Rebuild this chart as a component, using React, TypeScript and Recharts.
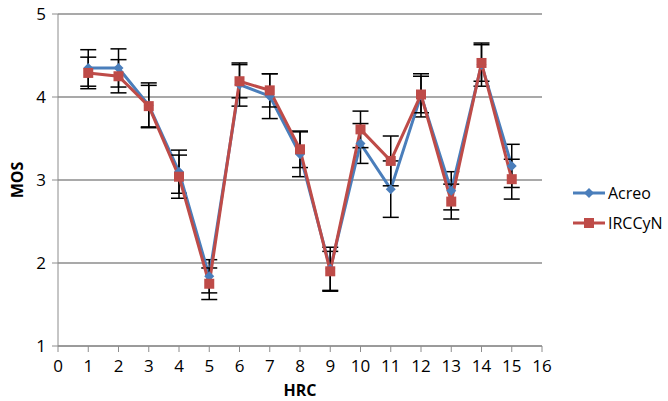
import { LineChart, Line, XAxis, YAxis, CartesianGrid, ErrorBar } from 'recharts'

const hrc = [1, 2, 3, 4, 5, 6, 7, 8, 9, 10, 11, 12, 13, 14, 15]
const acreo = [4.35, 4.35, 3.9, 3.1, 1.84, 4.15, 4.01, 3.31, 1.93, 3.44, 2.89, 4.02, 2.87, 4.39, 3.17]
const irccyn = [4.29, 4.25, 3.89, 3.04, 1.75, 4.19, 4.08, 3.37, 1.9, 3.61, 3.23, 4.03, 2.74, 4.41, 3.01]
const acreoErr = [0.22, 0.23, 0.27, 0.26, 0.2, 0.26, 0.27, 0.27, 0.26, 0.24, 0.34, 0.26, 0.23, 0.26, 0.26]
const irccynErr = [0.19, 0.2, 0.25, 0.26, 0.19, 0.2, 0.2, 0.22, 0.24, 0.22, 0.3, 0.22, 0.21, 0.22, 0.24]
const xTicks = [0, 1, 2, 3, 4, 5, 6, 7, 8, 9, 10, 11, 12, 13, 14, 15, 16]
const yTicks = [1, 2, 3, 4, 5]

const BLUE = '#4a7ebb'
const RED = '#be4b48'
const FONT = '"Open Sans", sans-serif'

const data = hrc.map((x, i) => ({
  hrc: x,
  acreo: acreo[i],
  irccyn: irccyn[i],
  acreoErr: acreoErr[i],
  irccynErr: irccynErr[i]
}))

const Diamond = ({ cx, cy }: any) => (
  <path d={`M${cx},${cy - 5} L${cx + 5},${cy} L${cx},${cy + 5} L${cx - 5},${cy} Z`} fill={BLUE} />
)

const Square = ({ cx, cy }: any) => (
  <rect x={cx - 5} y={cy - 5} width={10} height={10} fill={RED} />
)

// legend sits to the right of the plot, outside the recharts layout
const LegendBox = () => (
  <div style={{ position: 'absolute', left: 573, top: 178, fontFamily: FONT, fontSize: 16, color: '#000' }}>
    {[
      { name: 'Acreo', color: BLUE, square: false },
      { name: 'IRCCyN', color: RED, square: true }
    ].map(s => (
      <div key={s.name} style={{ display: 'flex', alignItems: 'center', height: 30 }}>
        <svg width={32} height={12} style={{ marginRight: 3 }}>
          <line x1={0} y1={6} x2={32} y2={6} stroke={s.color} strokeWidth={3} />
          {s.square
            ? <rect x={11} y={1} width={10} height={10} fill={s.color} />
            : <path d="M16,1 L21,6 L16,11 L11,6 Z" fill={s.color} />}
        </svg>
        <span>{s.name}</span>
      </div>
    ))}
  </div>
)

export default function App() {
  return (
    <div style={{ position: 'absolute', left: 0, top: 0, width: 668, height: 401, background: '#fff' }}>
      <LineChart width={668} height={401} data={data} margin={{ top: 14, right: 126, bottom: 0, left: 0 }}>
        <CartesianGrid vertical={false} stroke="#8c8c8c" strokeWidth={1.5} />
        <XAxis
          type="number"
          dataKey="hrc"
          domain={[0, 16]}
          ticks={xTicks}
          interval={0}
          height={55}
          stroke="#8c8c8c"
          tick={{ fill: '#000', fontSize: 17, fontFamily: FONT }}
          tickSize={6}
          tickMargin={8}
          label={{ value: 'HRC', position: 'insideBottom', offset: 5, style: { fontFamily: FONT, fontSize: 16, fontWeight: 'bold', fill: '#000' } }}
        />
        <YAxis
          type="number"
          domain={[1, 5]}
          ticks={yTicks}
          width={58}
          stroke="#8c8c8c"
          tick={{ fill: '#000', fontSize: 17, fontFamily: FONT }}
          tickSize={6}
          tickMargin={6}
          label={{ value: 'MOS', angle: -90, position: 'insideLeft', offset: 17, style: { fontFamily: FONT, fontSize: 16, fontWeight: 'bold', fill: '#000', textAnchor: 'middle' } }}
        />
        <Line
          dataKey="acreo"
          name="Acreo"
          stroke={BLUE}
          strokeWidth={3}
          dot={<Diamond />}
          activeDot={false}
          isAnimationActive={false}
        >
          <ErrorBar dataKey="acreoErr" direction="y" width={8} stroke="#000" strokeWidth={1.5} />
        </Line>
        <Line
          dataKey="irccyn"
          name="IRCCyN"
          stroke={RED}
          strokeWidth={3}
          dot={<Square />}
          activeDot={false}
          isAnimationActive={false}
        >
          <ErrorBar dataKey="irccynErr" direction="y" width={8} stroke="#000" strokeWidth={1.5} />
        </Line>
      </LineChart>
      <LegendBox />
    </div>
  )
}
